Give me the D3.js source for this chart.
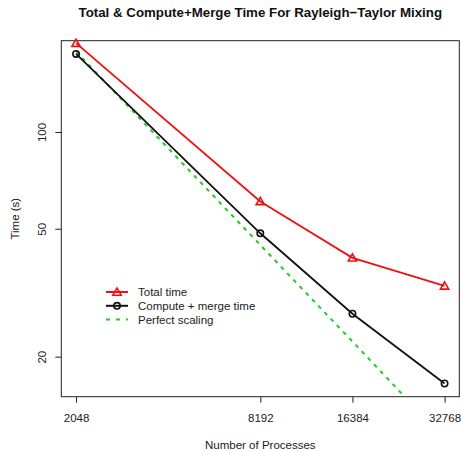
<!DOCTYPE html>
<head>
    <meta charset="utf-8">
    <title>Rayleigh-Taylor Mixing</title>
    <script type="text/javascript" src="https://d3js.org/d3.v7.min.js"></script>
    <style>
        body { margin: 0; background: #fff; }
        svg { font-family: "Liberation Sans", Arial, Helvetica, sans-serif; }
    </style>
</head>
<body>
<div id="container"></div>
<script>
    //-----------------------------DATA------------------------------//
    const processes = [2048, 8192, 16384, 32768];
    const totalTime = [189, 60.8, 40.6, 33.2];
    const computeMergeTime = [175, 48.4, 27.2, 16.5];
    const perfectScaling = [178, 44.5, 22.3, 11.1];
    const yTicks = [20, 50, 100];
    const legendLabels = ["Total time", "Compute + merge time", "Perfect scaling"];

    //-----------------------------SVG-------------------------------//
    const width = 461, height = 451;
    const margin = {top: 40.7, right: 1.7, bottom: 54.3, left: 61.3};
    const fs = 11.5;

    const svg = d3.select("div#container").append("svg")
        .attr('width', width)
        .attr('height', height);

    // R style: extend log range by 4% on each side
    function rExtent(vals) {
        const lo = Math.log10(d3.min(vals)), hi = Math.log10(d3.max(vals));
        const pad = (hi - lo) * 0.04;
        return [Math.pow(10, lo - pad), Math.pow(10, hi + pad)];
    }

    //----------------------------SCALES-----------------------------//
    const xScale = d3.scaleLog().base(2)
        .domain(rExtent(processes))
        .range([margin.left, width - margin.right]);
    const yScale = d3.scaleLog()
        .domain(rExtent(computeMergeTime))
        .range([height - margin.bottom, margin.top]);

    //-----------------------------AXES------------------------------//
    const xaxis = d3.axisBottom(xScale)
        .tickValues(processes)
        .tickFormat(d3.format("d"))
        .tickSize(6);
    const yaxis = d3.axisLeft(yScale)
        .tickValues(yTicks)
        .tickFormat(d3.format("d"))
        .tickSize(6);

    const gx = svg.append("g")
        .attr("transform", `translate(0, ${height - margin.bottom})`)
        .call(xaxis);
    gx.select(".domain").remove();
    gx.selectAll("line").attr("stroke", "#222");
    gx.selectAll("text").attr("font-size", fs).attr("fill", "#222")
        .attr("y", 25).attr("dy", 0);

    const gy = svg.append("g")
        .attr("transform", `translate(${margin.left}, 0)`)
        .call(yaxis);
    gy.select(".domain").remove();
    gy.selectAll("line").attr("stroke", "#222");
    gy.selectAll("text")
        .attr("font-size", fs).attr("fill", "#222")
        .attr("text-anchor", "middle")
        .attr("x", 0).attr("y", 0).attr("dy", 0)
        .attr("transform", "translate(-15,0) rotate(-90)");

    // plot box
    svg.append("rect")
        .attr("x", margin.left).attr("y", margin.top)
        .attr("width", width - margin.left - margin.right)
        .attr("height", height - margin.top - margin.bottom)
        .attr("fill", "none").attr("stroke", "#222").attr("stroke-width", 1);

    //-----------------------------TITLES----------------------------//
    svg.append("text")
        .attr("x", (margin.left + width - margin.right) / 2).attr("y", 16.5)
        .attr("text-anchor", "middle")
        .attr("font-size", 13.3).attr("font-weight", "bold").attr("fill", "#111")
        .text("Total & Compute+Merge Time For Rayleigh\u2212Taylor Mixing");

    svg.append("text")
        .attr("x", (margin.left + width - margin.right) / 2).attr("y", 449)
        .attr("text-anchor", "middle")
        .attr("font-size", fs).attr("fill", "#222")
        .text("Number of Processes");

    svg.append("text")
        .attr("transform", `translate(18.5, ${(margin.top + height - margin.bottom) / 2}) rotate(-90)`)
        .attr("text-anchor", "middle")
        .attr("font-size", fs).attr("fill", "#222")
        .text("Time (s)");

    //----------------------------LINES------------------------------//
    svg.append("clipPath").attr("id", "plot-clip")
        .append("rect")
        .attr("x", margin.left).attr("y", margin.top)
        .attr("width", width - margin.left - margin.right)
        .attr("height", height - margin.top - margin.bottom);

    const line = d3.line()
        .x(d => xScale(d[0]))
        .y(d => yScale(d[1]));

    const red = "#ee1111", black = "#111", green = "#22cc22";

    svg.append("path")
        .attr("clip-path", "url(#plot-clip)")
        .attr("d", line(d3.zip(processes, perfectScaling)))
        .attr("fill", "none").attr("stroke", green)
        .attr("stroke-width", 2).attr("stroke-dasharray", "4,5");

    svg.append("path")
        .attr("d", line(d3.zip(processes, computeMergeTime)))
        .attr("fill", "none").attr("stroke", black).attr("stroke-width", 1.8);

    svg.append("path")
        .attr("d", line(d3.zip(processes, totalTime)))
        .attr("fill", "none").attr("stroke", red).attr("stroke-width", 1.8);

    const tri = d3.symbol().type(d3.symbolTriangle).size(30);

    svg.selectAll(".tri")
        .data(d3.zip(processes, totalTime))
        .enter().append("path")
        .attr("class", "tri")
        .attr("d", tri)
        .attr("transform", d => `translate(${xScale(d[0])},${yScale(d[1]) + 0.8})`)
        .attr("fill", "none").attr("stroke", red).attr("stroke-width", 1.6);

    svg.selectAll(".pt")
        .data(d3.zip(processes, computeMergeTime))
        .enter().append("circle")
        .attr("class", "pt")
        .attr("cx", d => xScale(d[0])).attr("cy", d => yScale(d[1]))
        .attr("r", 3.2)
        .attr("fill", "none").attr("stroke", black).attr("stroke-width", 1.6);

    //----------------------------LEGEND-----------------------------//
    const legendColors = [red, black, green];
    const legend = svg.append("g").attr("transform", "translate(106, 292)");
    legendLabels.forEach(function(label, i) {
        const g = legend.append("g").attr("transform", `translate(0, ${i * 13.8})`);
        g.append("line")
            .attr("x1", 0).attr("x2", 22).attr("y1", 0).attr("y2", 0)
            .attr("stroke", legendColors[i]).attr("stroke-width", 2)
            .attr("stroke-dasharray", i === 2 ? "4,6" : null);
        if (i === 0) {
            g.append("path").attr("d", tri).attr("transform", "translate(11,0.8)")
                .attr("fill", "none").attr("stroke", red).attr("stroke-width", 1.6);
        }
        if (i === 1) {
            g.append("circle").attr("cx", 11).attr("cy", 0).attr("r", 3.2)
                .attr("fill", "none").attr("stroke", black).attr("stroke-width", 1.6);
        }
        g.append("text")
            .attr("x", 32).attr("y", 4)
            .attr("font-size", fs).attr("fill", "#222")
            .text(label);
    });
</script>
</body>
